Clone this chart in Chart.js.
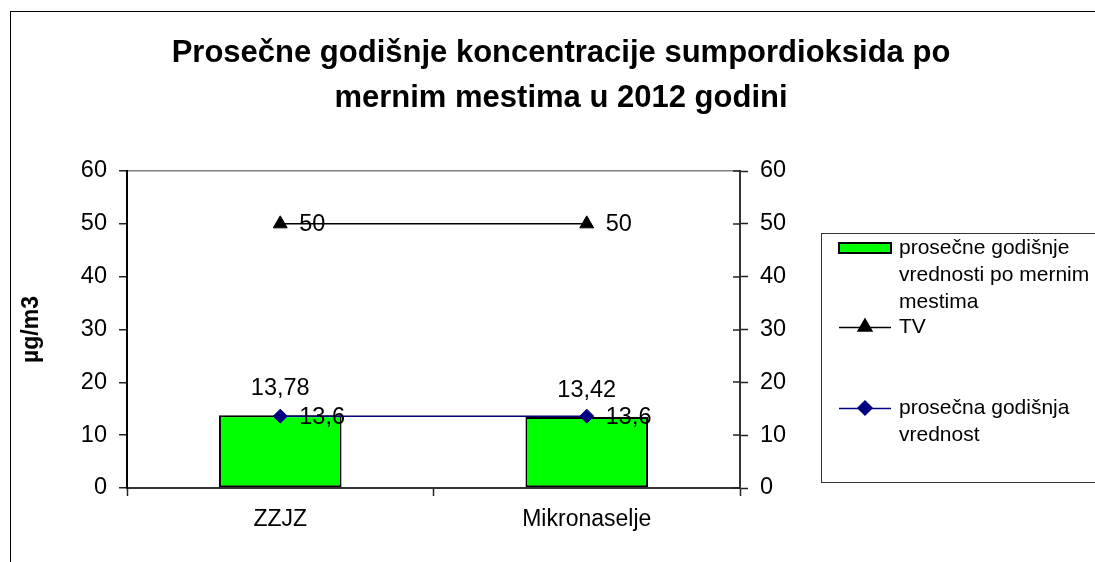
<!DOCTYPE html>
<html>
<head>
<meta charset="utf-8">
<script src="https://cdn.jsdelivr.net/npm/chart.js@4.4.1/dist/chart.umd.min.js"></script>
<style>
  html, body { margin: 0; padding: 0; background: #fff; }
  #wrap { width: 1095px; height: 562px; }
</style>
</head>
<body>
<div id="wrap"><canvas id="so2Chart" width="1095" height="562"></canvas></div>
<script>
// chart data
const categories = ['ZZJZ', 'Mikronaselje'];
const stationMeans = [13.78, 13.42];   // prosečne godišnje vrednosti po mernim mestima
const limitValues = [50, 50];          // TV
const overallMean = [13.6, 13.6];      // prosečna godišnja vrednost
const titleLines = ['Prosečne godišnje koncentracije sumpordioksida po', 'mernim mestima u 2012 godini'];
const legendLines = [
    ['prosečne godišnje', 'vrednosti po mernim', 'mestima'],
    ['TV'],
    ['prosečna godišnja', 'vrednost']
];
const yMin = 0, yMax = 60, yStep = 10;

const FONT = '"Liberation Sans", Arial, sans-serif';

function fmt(v) {
    return String(v).replace('.', ',');
}

// value labels next to the marks
const valueLabels = {
    id: 'valueLabels',
    afterDatasetsDraw(chart) {
        const ctx = chart.ctx;
        ctx.save();
        ctx.font = '23.5px ' + FONT;
        ctx.fillStyle = '#000';
        ctx.textBaseline = 'middle';
        chart.data.datasets.forEach((ds, i) => {
            const meta = chart.getDatasetMeta(i);
            meta.data.forEach((el, j) => {
                const txt = fmt(ds.data[j]);
                if (ds.type === 'bar') {
                    ctx.textAlign = 'center';
                    ctx.fillText(txt, el.x, el.y - 27);
                } else {
                    ctx.textAlign = 'left';
                    ctx.fillText(txt, el.x + 19, el.y + 1);
                }
            });
        });
        ctx.restore();
    }
};

// title, frame, inner ticks of right axis and legend box
const decorations = {
    id: 'decorations',
    afterDraw(chart) {
        const ctx = chart.ctx;
        const area = chart.chartArea;
        ctx.save();

        // outer frame (runs off right and bottom)
        ctx.strokeStyle = '#000';
        ctx.lineWidth = 1;
        ctx.strokeRect(10.5, 11.5, 1200, 700);

        // title
        ctx.fillStyle = '#000';
        ctx.font = 'bold 31px ' + FONT;
        ctx.textAlign = 'center';
        ctx.textBaseline = 'alphabetic';
        ctx.fillText(titleLines[0], 561, 62);
        ctx.fillText(titleLines[1], 561, 107);

        // right axis ticks cross the axis line
        const y2 = chart.scales.y2;
        ctx.strokeStyle = '#222';
        ctx.lineWidth = 1.5;
        y2.ticks.forEach(t => {
            const py = Math.round(y2.getPixelForValue(t.value));
            ctx.beginPath();
            ctx.moveTo(area.right - 7, py);
            ctx.lineTo(area.right, py);
            ctx.stroke();
        });

        // legend box
        ctx.strokeStyle = '#333';
        ctx.lineWidth = 1;
        ctx.strokeRect(821.5, 233.5, 400, 249);

        const ds = chart.data.datasets;
        const symX = 839, symW = 52, textX = 899;
        ctx.font = '21px ' + FONT;
        ctx.textAlign = 'left';
        ctx.textBaseline = 'middle';
        const rowY = [248, 327, 408];
        legendLines.forEach((lines, i) => {
            lines.forEach((ln, k) => {
                ctx.fillStyle = '#000';
                ctx.fillText(ln, textX, rowY[i] + k * 27);
            });
            const d = ds[i];
            const cy = rowY[i];
            if (d.type === 'bar') {
                ctx.fillStyle = d.backgroundColor;
                ctx.fillRect(symX, cy - 5, symW, 10);
                ctx.strokeStyle = d.borderColor;
                ctx.lineWidth = 2;
                ctx.strokeRect(symX, cy - 5, symW, 10);
            } else {
                ctx.strokeStyle = d.borderColor;
                ctx.lineWidth = d.borderWidth;
                ctx.beginPath();
                ctx.moveTo(symX, cy + 0.5);
                ctx.lineTo(symX + symW, cy + 0.5);
                ctx.stroke();
                Chart.helpers.drawPoint(ctx, {
                    pointStyle: d.pointStyle,
                    radius: d.pointRadius,
                    borderWidth: 1
                }, symX + symW / 2, cy);
                ctx.fillStyle = d.pointBackgroundColor;
                ctx.fill();
            }
        });

        ctx.restore();
    }
};

new Chart(document.getElementById('so2Chart'), {
    data: {
        labels: categories,
        datasets: [
            {
                type: 'bar',
                label: legendLines[0].join(' '),
                data: stationMeans,
                backgroundColor: '#00ff00',
                borderColor: '#000',
                borderWidth: 2,
                borderSkipped: false,
                categoryPercentage: 1,
                barPercentage: 0.4,
                order: 2
            },
            {
                type: 'line',
                label: 'TV',
                data: limitValues,
                borderColor: '#000',
                borderWidth: 1.5,
                pointStyle: 'triangle',
                pointRadius: 8,
                pointBackgroundColor: '#000',
                pointBorderColor: '#000',
                pointBorderWidth: 1,
                fill: false,
                order: 1
            },
            {
                type: 'line',
                label: legendLines[2].join(' '),
                data: overallMean,
                borderColor: '#000080',
                borderWidth: 1.5,
                pointStyle: 'rectRot',
                pointRadius: 7,
                pointBackgroundColor: '#000080',
                pointBorderColor: '#000080',
                pointBorderWidth: 1,
                fill: false,
                order: 1
            }
        ]
    },
    options: {
        responsive: false,
        animation: false,
        devicePixelRatio: 1,
        layout: { padding: { left: 14, top: 171, right: 0, bottom: 0 } },
        plugins: {
            legend: { display: false },
            title: { display: false },
            tooltip: { enabled: false }
        },
        scales: {
            x: {
                type: 'category',
                offset: true,
                grid: {
                    offset: true,
                    drawOnChartArea: false,
                    drawTicks: true,
                    tickLength: 8,
                    tickColor: '#222',
                    tickWidth: 1.5
                },
                border: { display: true, color: '#333', width: 2 },
                ticks: { color: '#000', font: { family: FONT, size: 23 }, padding: 10 },
                afterFit(scale) { scale.height = 74; }
            },
            y: {
                position: 'left',
                min: yMin,
                max: yMax,
                ticks: { stepSize: yStep, color: '#000', font: { family: FONT, size: 23.5 }, padding: 12 },
                grid: {
                    drawOnChartArea: true,
                    color: c => (c.tick && c.tick.value === yMax) ? '#808080' : 'rgba(0,0,0,0)',
                    lineWidth: 1.5,
                    tickLength: 8,
                    tickColor: '#222'
                },
                border: { display: true, color: '#000', width: 2 },
                title: {
                    display: true,
                    text: 'µg/m3',
                    color: '#000',
                    font: { family: FONT, size: 23, weight: 'bold' }
                },
                afterFit(scale) { scale.width = 113; }
            },
            y2: {
                position: 'right',
                min: yMin,
                max: yMax,
                ticks: { stepSize: yStep, color: '#000', font: { family: FONT, size: 23.5 }, padding: 12 },
                grid: {
                    drawOnChartArea: false,
                    tickLength: 8,
                    tickColor: '#222',
                    tickWidth: 1.5
                },
                border: { display: true, color: '#333', width: 2 },
                afterFit(scale) { scale.width = 355; }
            }
        }
    },
    plugins: [valueLabels, decorations]
});
</script>
</body>
</html>
